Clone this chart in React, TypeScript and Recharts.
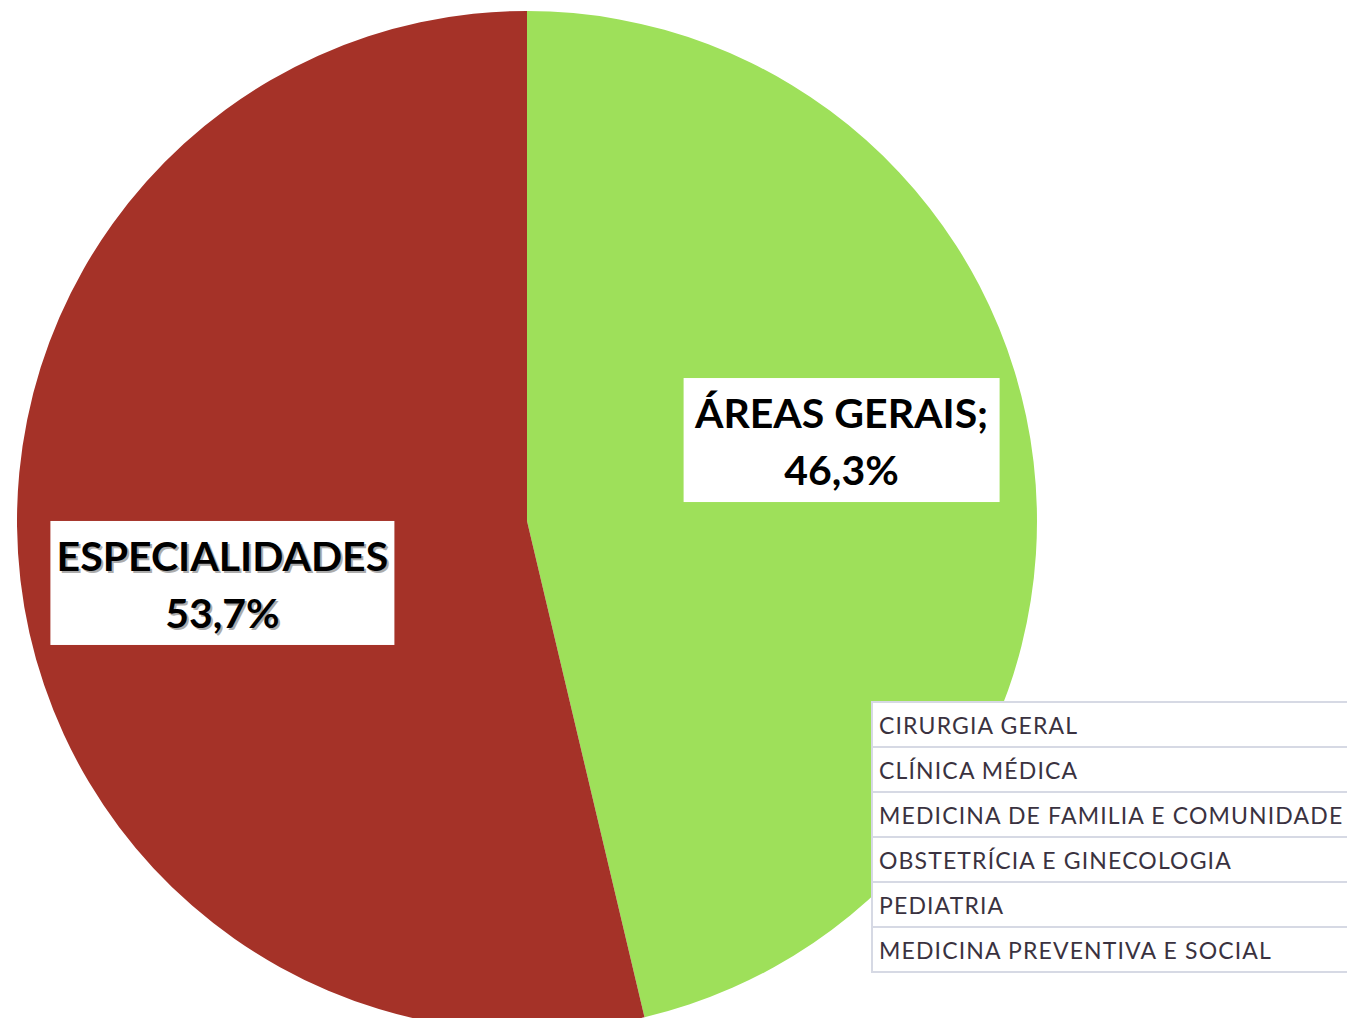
import React from 'react';
import { PieChart, Pie, Cell, Legend } from 'recharts';

// fatias do gráfico
const names = ['ÁREAS GERAIS', 'ESPECIALIDADES'];
const values = [46.3, 53.7];
const colors = ['#9EE05A', '#A53228'];

// linhas da tabela à direita
const areas = [
  'CIRURGIA GERAL',
  'CLÍNICA MÉDICA',
  'MEDICINA DE FAMILIA E COMUNIDADE',
  'OBSTETRÍCIA E GINECOLOGIA',
  'PEDIATRIA',
  'MEDICINA PREVENTIVA E SOCIAL',
];

const data = names.map((name, i) => ({ name, value: values[i] }));

const fmt = (v: number) => v.toFixed(1).replace('.', ',') + '%';

// caixas de rótulo: tamanho e deslocamento em relação ao ponto no ângulo médio
const boxes = [
  { w: 316, h: 124, dx: -2, dy: -44, sep: ';', shadow: false },
  { w: 344, h: 124, dx: 12, dy: 25, sep: '', shadow: true },
];

const RADIAN = Math.PI / 180;

const renderLabel = (props: any) => {
  const { cx, cy, midAngle, outerRadius, index } = props;
  const b = boxes[index];
  const r = outerRadius * 0.625;
  const x = cx + r * Math.cos(-midAngle * RADIAN) + b.dx;
  const y = cy + r * Math.sin(-midAngle * RADIAN) + b.dy;
  const line1 = names[index] + b.sep;
  const line2 = fmt(values[index]);
  const textStyle = { fontFamily: 'Lato, "Open Sans", sans-serif', fontWeight: 700, fontSize: 41 };
  return (
    <g key={`lbl-${index}`}>
      <rect x={x - b.w / 2} y={y - b.h / 2} width={b.w} height={b.h} fill="#ffffff" />
      {b.shadow && (
        <g fill="#8a8a8a" opacity={0.7}>
          <text x={x + 2} y={y - 12 + 2} textAnchor="middle" style={textStyle}>{line1}</text>
          <text x={x + 2} y={y + 45 + 2} textAnchor="middle" style={textStyle}>{line2}</text>
        </g>
      )}
      <text x={x} y={y - 12} textAnchor="middle" fill="#000" style={textStyle}>{line1}</text>
      <text x={x} y={y + 45} textAnchor="middle" fill="#000" style={textStyle}>{line2}</text>
    </g>
  );
};

const AreaTable = () => (
  <div
    style={{
      width: 540,
      borderLeft: '2px solid #d6d9e4',
      borderTop: '2px solid #d6d9e4',
      background: '#fff',
    }}
  >
    {areas.map((a) => (
      <div
        key={a}
        style={{
          height: 43,
          borderBottom: '2px solid #d6d9e4',
          paddingLeft: 6,
          display: 'flex',
          alignItems: 'center',
          fontFamily: 'Lato, "Open Sans", sans-serif',
          fontSize: 23,
          letterSpacing: 1.15,
          color: '#3a3240',
          whiteSpace: 'nowrap',
        }}
      >
        {a}
      </div>
    ))}
  </div>
);

export default function App() {
  return (
    <div style={{ position: 'relative', margin: -8, width: 1355, height: 1026, overflow: 'hidden', background: '#fff' }}>
      <PieChart width={1355} height={1026} margin={{ top: 0, right: 0, bottom: 0, left: 0 }} style={{ overflow: 'visible' }}>
        <Pie
          data={data}
          dataKey="value"
          nameKey="name"
          cx={527}
          cy={521}
          outerRadius={510}
          startAngle={90}
          endAngle={-270}
          stroke="none"
          label={renderLabel}
          labelLine={false}
          isAnimationActive={false}
        >
          {data.map((d, i) => (
            <Cell key={d.name} fill={colors[i]} />
          ))}
        </Pie>
        <Legend
          content={() => <AreaTable />}
          wrapperStyle={{ left: 871, top: 701, width: 540, bottom: 'auto', overflow: 'visible' }}
        />
      </PieChart>
    </div>
  );
}
